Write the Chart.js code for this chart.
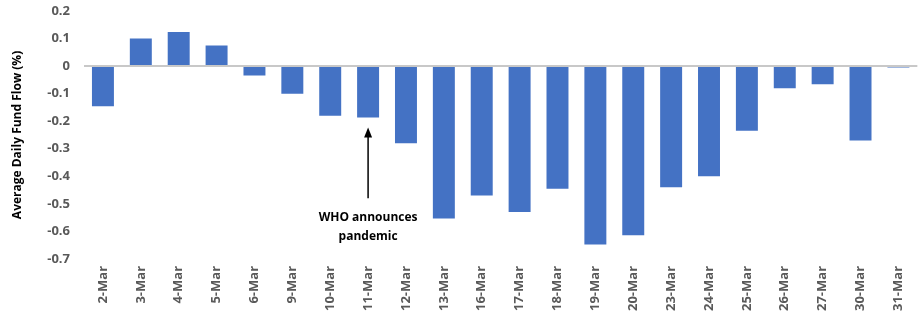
<!DOCTYPE html>
<html>
<head>
<meta charset="utf-8">
<script src="https://cdn.jsdelivr.net/npm/chart.js@4.4.0/dist/chart.umd.min.js"></script>
<style>
  html, body { margin: 0; padding: 0; background: #fff; }
  #wrap { width: 921px; height: 322px; }
</style>
</head>
<body>
<div id="wrap"><canvas id="grafico"></canvas></div>
<script>
// categorias y valores
const fechas = ['2-Mar', '3-Mar', '4-Mar', '5-Mar', '6-Mar', '9-Mar', '10-Mar', '11-Mar', '12-Mar', '13-Mar', '16-Mar',
  '17-Mar', '18-Mar', '19-Mar', '20-Mar', '23-Mar', '24-Mar', '25-Mar', '26-Mar', '27-Mar', '30-Mar', '31-Mar'];
const flujos = [-0.146, 0.10, 0.124, 0.075, -0.034, -0.10, -0.18, -0.187, -0.28, -0.553, -0.47,
  -0.53, -0.445, -0.648, -0.614, -0.44, -0.40, -0.235, -0.08, -0.066, -0.27, -0.005];
const ticksY = [0.2, 0.1, 0, -0.1, -0.2, -0.3, -0.4, -0.5, -0.6, -0.7];
// anotacion
const notaFecha = '11-Mar';
const notaTexto = ['WHO announces', 'pandemic'];
const notaFlecha = [-0.48, -0.223]; // desde, hasta (valores del eje)

const gris = '#595959';

// Plugin para la flecha y el texto
const anotacion = {
  id: 'anotacion',
  afterDatasetsDraw(chart) {
    const ctx = chart.ctx;
    const xs = chart.scales.x, ys = chart.scales.y;
    const x = xs.getPixelForValue(fechas.indexOf(notaFecha));
    const y0 = ys.getPixelForValue(notaFlecha[0]);
    const y1 = ys.getPixelForValue(notaFlecha[1]);
    ctx.save();
    ctx.strokeStyle = '#000';
    ctx.fillStyle = '#000';
    ctx.lineWidth = 1.5;
    ctx.beginPath();
    ctx.moveTo(x, y0);
    ctx.lineTo(x, y1 + 8);
    ctx.stroke();
    ctx.beginPath();
    ctx.moveTo(x, y1);
    ctx.lineTo(x - 4, y1 + 10);
    ctx.lineTo(x + 4, y1 + 10);
    ctx.closePath();
    ctx.fill();
    ctx.font = 'bold 12px "Open Sans"';
    ctx.textAlign = 'center';
    ctx.textBaseline = 'middle';
    notaTexto.forEach((t, i) => ctx.fillText(t, x, y0 + 19 + i * 19));
    ctx.restore();
  }
};

new Chart(document.getElementById('grafico'), {
  type: 'bar',
  data: {
    labels: fechas,
    datasets: [{
      data: flujos,
      backgroundColor: '#4472c4',
      borderWidth: 0,
      barPercentage: 0.58,
      categoryPercentage: 1
    }]
  },
  options: {
    responsive: true,
    maintainAspectRatio: false,
    animation: false,
    layout: { padding: { top: 11, right: 0, left: 4, bottom: 4 } },
    plugins: {
      legend: { display: false },
      tooltip: { enabled: false }
    },
    scales: {
      x: {
        grid: { display: false, drawTicks: false },
        border: { display: false },
        ticks: {
          color: gris,
          font: { family: 'Open Sans', size: 13, weight: 'bold' },
          minRotation: 90,
          maxRotation: 90,
          autoSkip: false,
          padding: 7
        }
      },
      y: {
        min: -0.7,
        max: 0.2,
        afterBuildTicks(axis) {
          axis.ticks = ticksY.map(v => ({ value: v }));
        },
        afterFit(axis) {
          axis.width = 80;
          axis.paddingTop = 0;
          axis.paddingBottom = 0;
        },
        grid: {
          drawTicks: false,
          lineWidth: 2,
          color: c => (c.tick && c.tick.value === 0 ? '#c8c8c8' : 'rgba(0,0,0,0)')
        },
        border: { display: false },
        ticks: {
          color: gris,
          padding: 14,
          font: { family: 'Open Sans', size: 13, weight: 'bold' },
          callback: v => (v === 0 ? '0' : Number(v).toFixed(1))
        },
        title: {
          display: true,
          text: 'Average Daily Fund Flow (%)',
          color: '#000',
          font: { family: 'Open Sans', size: 12, weight: 'bold' },
          padding: { top: 6, bottom: 0 }
        }
      }
    }
  },
  plugins: [anotacion]
});
</script>
</body>
</html>
